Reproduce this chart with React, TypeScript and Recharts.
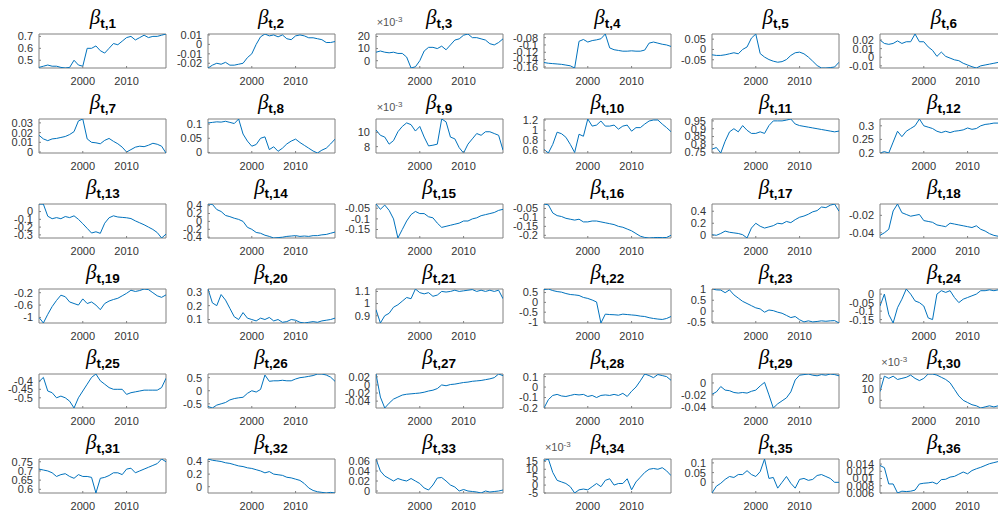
import { LineChart, Line, XAxis, YAxis, ReferenceArea } from 'recharts'

const YEARS = [1990, 1991, 1992, 1993, 1994, 1995, 1996, 1997, 1998, 1999, 2000, 2001, 2002, 2003, 2004,
  2005, 2006, 2007, 2008, 2009, 2010, 2011, 2012, 2013, 2014, 2015, 2016, 2017, 2018, 2019]
const X_TICKS = [2000, 2010]

// one coefficient path per panel, yearly readings
const B1 = [0.44, 0.45, 0.46, 0.45, 0.45, 0.44, 0.435, 0.44, 0.5, 0.46, 0.45, 0.6, 0.6, 0.62, 0.58, 0.56, 0.6, 0.64, 0.63, 0.66, 0.69, 0.7, 0.67, 0.69, 0.71, 0.69, 0.7, 0.7, 0.71, 0.72]
const B2 = [-0.025, -0.022, -0.02, -0.021, -0.019, -0.022, -0.022, -0.021, -0.02, -0.014, -0.01, 0.0, 0.008, 0.011, 0.009, 0.01, 0.008, 0.01, 0.006, 0.005, 0.009, 0.01, 0.009, 0.007, 0.007, 0.006, 0.005, 0.002, 0.002, 0.003]
const B3 = [7, 8, 7, 6.5, 7, 6, 6, 3, -6, -5, 0, 8, 11, 11, 10, 12, 9, 13, 17, 18, 21, 22, 19, 19, 18, 17, 14, 13, 15, 18]
const B4 = [-0.148, -0.15, -0.151, -0.152, -0.153, -0.155, -0.157, -0.163, -0.09, -0.085, -0.092, -0.088, -0.086, -0.083, -0.07, -0.108, -0.113, -0.115, -0.117, -0.117, -0.116, -0.117, -0.117, -0.114, -0.095, -0.092, -0.095, -0.098, -0.1, -0.104]
const B5 = [-0.026, -0.029, -0.029, -0.026, -0.021, -0.016, -0.021, 0.0, 0.012, 0.055, 0.075, -0.02, -0.037, -0.049, -0.057, -0.062, -0.059, -0.049, -0.029, -0.016, -0.013, -0.021, -0.037, -0.057, -0.078, -0.09, -0.09, -0.088, -0.085, -0.062]
const B6 = [0.02, 0.016, 0.015, 0.016, 0.019, 0.016, 0.018, 0.018, 0.027, 0.018, 0.018, 0.012, 0.008, 0.001, 0.006, 0.001, -0.001, -0.003, -0.004, -0.007, -0.009, -0.011, -0.0125, -0.01, -0.009, -0.008, -0.007, -0.006, -0.005, -0.004]
const B7 = [0.0172, 0.0135, 0.0117, 0.0135, 0.014, 0.015, 0.016, 0.018, 0.021, 0.032, 0.034, 0.0135, 0.01, 0.0095, 0.0085, 0.012, 0.014, 0.011, 0.0085, 0.005, 0.0, 0.0025, 0.005, 0.006, 0.0055, 0.007, 0.009, 0.008, 0.006, -0.001]
const B8 = [0.104, 0.106, 0.108, 0.107, 0.11, 0.106, 0.102, 0.118, 0.065, 0.04, 0.022, 0.028, 0.05, 0.055, 0.01, 0.02, 0.004, 0.015, 0.03, 0.04, 0.047, 0.035, 0.025, 0.015, 0.005, -0.002, 0.008, 0.015, 0.03, 0.047]
const B9 = [10.35, 9.6, 9.35, 8.35, 8.85, 10.1, 10.85, 11.35, 11.1, 10.2, 10.85, 9.35, 8.1, 8.2, 8.35, 11.9, 11.5, 9.35, 9.1, 7.85, 7.1, 8.35, 9.1, 9.85, 9.6, 10.1, 10.1, 9.85, 9.6, 7.5]
const B10 = [0.62, 0.55, 0.72, 0.96, 0.93, 0.86, 0.72, 0.56, 0.92, 0.88, 1.22, 1.08, 1.1, 1.18, 1.08, 1.08, 1.1, 1.02, 1.08, 1.1, 0.98, 1.05, 1.05, 1.12, 1.18, 1.2, 1.2, 1.12, 1.05, 0.97]
const B11 = [0.77, 0.78, 0.745, 0.82, 0.88, 0.9, 0.88, 0.92, 0.89, 0.87, 0.87, 0.88, 0.87, 0.92, 0.95, 0.95, 0.95, 0.955, 0.962, 0.93, 0.92, 0.915, 0.91, 0.905, 0.9, 0.895, 0.89, 0.885, 0.88, 0.885]
const B12 = [0.2, 0.205, 0.2, 0.24, 0.28, 0.26, 0.28, 0.29, 0.3, 0.325, 0.3, 0.295, 0.29, 0.28, 0.275, 0.28, 0.275, 0.28, 0.282, 0.285, 0.292, 0.287, 0.29, 0.3, 0.305, 0.307, 0.31, 0.31, 0.312, 0.315]
const B13 = [0.097, 0.095, -0.06, -0.092, -0.078, -0.092, -0.064, -0.078, -0.055, -0.1, -0.156, -0.216, -0.276, -0.26, -0.28, -0.15, -0.08, -0.055, -0.07, -0.075, -0.08, -0.09, -0.12, -0.145, -0.17, -0.2, -0.23, -0.27, -0.34, -0.29]
const B14 = [0.44, 0.43, 0.3, 0.25, 0.15, 0.12, 0.08, 0.05, 0.0, -0.15, -0.2, -0.28, -0.3, -0.35, -0.38, -0.42, -0.41, -0.4, -0.38, -0.37, -0.36, -0.38, -0.37, -0.38, -0.36, -0.36, -0.34, -0.33, -0.3, -0.27]
const B15 = [-0.03, -0.055, -0.035, -0.06, -0.1, -0.19, -0.15, -0.11, -0.08, -0.065, -0.075, -0.075, -0.09, -0.095, -0.12, -0.14, -0.135, -0.13, -0.125, -0.12, -0.11, -0.11, -0.1, -0.095, -0.085, -0.08, -0.075, -0.07, -0.06, -0.055]
const B16 = [-0.025, -0.03, -0.075, -0.09, -0.095, -0.105, -0.11, -0.115, -0.11, -0.125, -0.125, -0.12, -0.12, -0.125, -0.13, -0.135, -0.14, -0.15, -0.155, -0.165, -0.175, -0.19, -0.205, -0.212, -0.215, -0.213, -0.212, -0.213, -0.212, -0.2]
const B17 = [0.01, 0.0, 0.03, 0.07, 0.05, 0.04, 0.03, 0.01, -0.045, 0.12, 0.2, 0.15, 0.12, 0.14, 0.16, 0.2, 0.19, 0.23, 0.21, 0.26, 0.3, 0.32, 0.35, 0.39, 0.41, 0.47, 0.46, 0.5, 0.52, 0.4]
const B18 = [-0.043, -0.04, -0.036, -0.015, -0.007, -0.017, -0.019, -0.021, -0.02, -0.019, -0.026, -0.027, -0.028, -0.031, -0.032, -0.033, -0.029, -0.03, -0.031, -0.032, -0.033, -0.034, -0.032, -0.036, -0.038, -0.041, -0.043, -0.044, -0.046, -0.046]
const B19 = [-1.0, -1.18, -0.9, -0.65, -0.45, -0.28, -0.33, -0.5, -0.55, -0.6, -0.4, -0.55, -0.5, -0.6, -0.75, -0.55, -0.47, -0.42, -0.38, -0.3, -0.22, -0.12, -0.16, -0.13, -0.08, -0.1, -0.2, -0.3, -0.35, -0.27]
const B20 = [0.32, 0.22, 0.2, 0.28, 0.24, 0.18, 0.12, 0.1, 0.15, 0.11, 0.1, 0.09, 0.11, 0.1, 0.115, 0.09, 0.1, 0.08, 0.085, 0.1, 0.095, 0.08, 0.075, 0.08, 0.085, 0.08, 0.09, 0.095, 0.1, 0.11]
const B21 = [0.95, 0.84, 0.9, 0.92, 0.97, 0.99, 1.02, 1.05, 1.04, 1.12, 1.09, 1.08, 1.09, 1.06, 1.07, 1.1, 1.095, 1.1, 1.11, 1.1, 1.105, 1.11, 1.115, 1.1, 1.11, 1.1, 1.11, 1.1, 1.11, 1.04]
const B22 = [0.65, 0.68, 0.6, 0.55, 0.52, 0.45, 0.4, 0.38, 0.35, 0.25, 0.2, 0.12, 0.02, -1.05, -0.6, -0.62, -0.63, -0.65, -0.6, -0.62, -0.64, -0.66, -0.7, -0.72, -0.78, -0.82, -0.85, -0.87, -0.82, -0.72]
const B23 = [1.02, 0.98, 0.97, 0.85, 0.98, 0.75, 0.6, 0.45, 0.35, 0.25, 0.15, 0.1, -0.05, 0.05, 0.02, -0.05, -0.1, -0.2, -0.3, -0.25, -0.4, -0.5, -0.45, -0.5, -0.48, -0.45, -0.47, -0.45, -0.44, -0.55]
const B24 = [-0.07, 0.0, -0.12, -0.17, -0.08, -0.03, 0.03, 0.0, -0.04, -0.05, -0.07, -0.14, -0.15, 0.0, 0.02, 0.01, 0.02, -0.02, -0.05, -0.03, -0.02, -0.01, 0.0, 0.02, 0.02, 0.025, 0.02, 0.025, 0.02, 0.03]
const B25 = [-0.405, -0.38, -0.46, -0.47, -0.5, -0.49, -0.5, -0.52, -0.56, -0.5, -0.46, -0.42, -0.38, -0.36, -0.4, -0.42, -0.44, -0.45, -0.45, -0.45, -0.48, -0.47, -0.465, -0.46, -0.455, -0.455, -0.455, -0.455, -0.44, -0.385]
const B26 = [-0.6, -0.66, -0.55, -0.5, -0.45, -0.35, -0.3, -0.27, -0.25, -0.1, 0.0, -0.05, 0.05, 0.6, 0.36, 0.38, 0.38, 0.4, 0.38, 0.38, 0.45, 0.5, 0.52, 0.55, 0.58, 0.64, 0.64, 0.6, 0.52, 0.36]
const B27 = [0.027, -0.03, -0.057, -0.045, -0.035, -0.03, -0.025, -0.023, -0.022, -0.021, -0.02, -0.018, -0.015, -0.013, -0.009, 0.0, -0.002, 0.001, 0.002, 0.004, 0.006, 0.007, 0.009, 0.01, 0.011, 0.013, 0.015, 0.018, 0.027, 0.023]
const B28 = [-0.2, -0.12, -0.08, -0.07, -0.085, -0.09, -0.08, -0.07, -0.075, -0.07, -0.09, -0.08, -0.1, -0.08, -0.075, -0.08, -0.07, -0.08, -0.06, -0.09, -0.04, 0.0, 0.06, 0.125, 0.11, 0.09, 0.12, 0.11, 0.1, 0.065]
const B29 = [-0.019, -0.015, -0.006, -0.012, -0.013, -0.016, -0.017, -0.016, -0.017, -0.014, -0.012, -0.005, 0.001, -0.02, -0.042, -0.035, -0.03, -0.025, -0.015, 0.005, 0.013, 0.014, 0.015, 0.013, 0.012, 0.014, 0.013, 0.015, 0.014, 0.012]
const B30 = [8, 22, 20, 22, 19, 20, 21, 23, 20, 18, 20, 24, 24, 23, 21, 19, 16, 10, 4, 0, -2, -4, -5, -7, -6, -5, -6, -5, -4, -4]
const B31 = [0.71, 0.705, 0.7, 0.69, 0.67, 0.68, 0.685, 0.67, 0.66, 0.68, 0.67, 0.67, 0.665, 0.58, 0.66, 0.665, 0.675, 0.69, 0.69, 0.68, 0.71, 0.715, 0.69, 0.7, 0.71, 0.72, 0.73, 0.74, 0.765, 0.75]
const B32 = [0.44, 0.42, 0.41, 0.4, 0.38, 0.37, 0.35, 0.33, 0.32, 0.3, 0.29, 0.27, 0.25, 0.22, 0.24, 0.2, 0.19, 0.18, 0.15, 0.14, 0.12, 0.1, 0.05, -0.02, -0.06, -0.08, -0.09, -0.1, -0.09, -0.1]
const B33 = [0.064, 0.04, 0.03, 0.025, 0.02, 0.025, 0.022, 0.02, 0.025, 0.02, 0.015, 0.006, 0.002, 0.012, 0.026, 0.027, 0.02, 0.012, 0.008, 0.0, 0.003, 0.0, -0.001, -0.002, -0.004, 0.0, -0.002, -0.001, 0.0, 0.002]
const B34 = [15.5, 16.5, 8, 3, 2, 1, -1, -5, -3, -2.5, -3, -1, 1, -1, 3, 4, 0, 1, 1, 4, -3, 2, 5, 8, 10, 10.5, 10, 11, 9, 6]
const B35 = [-0.055, -0.02, -0.005, 0.015, 0.03, 0.025, 0.04, 0.04, 0.06, 0.04, 0.03, 0.055, 0.12, 0.02, 0.025, -0.03, 0.0, 0.03, -0.005, -0.03, 0.015, 0.02, 0.01, 0.015, 0.035, 0.04, 0.03, 0.02, 0.0, 0.0]
const B36 = [0.0136, 0.013, 0.0085, 0.0085, 0.006, 0.0065, 0.0064, 0.0065, 0.0068, 0.0085, 0.0087, 0.0088, 0.009, 0.0085, 0.0097, 0.0098, 0.0104, 0.0106, 0.0112, 0.0118, 0.0113, 0.0122, 0.0127, 0.0131, 0.0136, 0.0141, 0.0144, 0.0147, 0.015, 0.0154]

const SERIES = [B1, B2, B3, B4, B5, B6, B7, B8, B9, B10, B11, B12, B13, B14, B15, B16, B17, B18,
  B19, B20, B21, B22, B23, B24, B25, B26, B27, B28, B29, B30, B31, B32, B33, B34, B35, B36]

const Y_TICKS = [
  [0.5, 0.6, 0.7], [-0.02, -0.01, 0, 0.01], [0, 10, 20], [-0.16, -0.14, -0.12, -0.1, -0.08],
  [-0.05, 0, 0.05], [-0.01, 0, 0.01, 0.02], [0, 0.01, 0.02, 0.03], [0, 0.05, 0.1],
  [8, 10], [0.6, 0.8, 1, 1.2], [0.75, 0.8, 0.85, 0.9, 0.95], [0.2, 0.25, 0.3],
  [-0.3, -0.2, -0.1, 0], [-0.4, -0.2, 0, 0.2, 0.4], [-0.15, -0.1, -0.05], [-0.2, -0.15, -0.1, -0.05],
  [0, 0.2, 0.4], [-0.04, -0.02], [-1, -0.6, -0.2], [0.1, 0.2, 0.3],
  [0.9, 1, 1.1], [-1, -0.5, 0, 0.5], [-0.5, 0, 0.5, 1], [-0.15, -0.1, -0.05, 0],
  [-0.5, -0.45, -0.4], [-0.5, 0, 0.5], [-0.04, -0.02, 0, 0.02], [-0.2, -0.1, 0, 0.1],
  [-0.04, -0.02, 0], [0, 10, 20], [0.6, 0.65, 0.7, 0.75], [0, 0.2, 0.4],
  [0, 0.02, 0.04, 0.06], [-5, 0, 5, 10, 15], [0, 0.05, 0.1], [0.006, 0.008, 0.01, 0.012, 0.014],
]

// panels plotted in units of 1e-3
const SCALED = [3, 9, 30, 34]

const COL_X = 39.3
const COL_STEP = 168.2
const ROW_Y = 33.5
const ROW_STEP = 85
const BOX_W = 127
const BOX_H = 34
const AXIS_W = 48
const PAD_TOP = 8
const LINE_COLOR = '#0072BD'
const FRAME = '#808080'
const TEXT = '#333333'

function Panel({ idx }: { idx: number }) {
  const vals = SERIES[idx]
  const data = YEARS.map((t, i) => ({ t, v: vals[i] }))
  const lo = Math.min(...vals)
  const hi = Math.max(...vals)
  const eps = (hi - lo) * 1e-6
  const ticks = Y_TICKS[idx].filter(v => v >= lo - eps && v <= hi + eps)
  const col = idx % 6
  const row = Math.floor(idx / 6)
  const left = COL_X + col * COL_STEP
  const top = ROW_Y + row * ROW_STEP
  const tickStyle = { fontSize: 11, fill: TEXT }

  return (
    <>
      <div style={{
        position: 'absolute', left, top: top - 29, width: BOX_W, textAlign: 'center',
        whiteSpace: 'nowrap', color: '#000', lineHeight: '24px',
      }}>
        <span style={{ fontFamily: '"Liberation Serif", serif', fontStyle: 'italic', fontSize: 21 }}>β</span>
        <span style={{ fontWeight: 'bold', fontSize: 13.5, position: 'relative', top: 4 }}>t,{idx + 1}</span>
      </div>
      {SCALED.includes(idx + 1) && (
        <div style={{ position: 'absolute', left: left + 1, top: top - 18, fontSize: 11, color: '#555', lineHeight: '12px' }}>
          ×10<span style={{ fontSize: 8, position: 'relative', top: -4 }}>-3</span>
        </div>
      )}
      <div style={{ position: 'absolute', left: left - AXIS_W, top: top - PAD_TOP }}>
        <LineChart width={AXIS_W + BOX_W + 2} height={BOX_H + PAD_TOP + 22} data={data}
          margin={{ top: PAD_TOP, right: 2, bottom: 0, left: 0 }}>
          <XAxis dataKey="t" type="number" domain={[1990, 2019]} ticks={X_TICKS} interval={0}
            axisLine={false} tickLine={{ stroke: FRAME }} tickSize={-2} tickMargin={11}
            height={22} tick={tickStyle} allowDataOverflow />
          <YAxis type="number" domain={[lo, hi]} ticks={ticks} interval={0} width={AXIS_W}
            axisLine={false} tickLine={{ stroke: FRAME }} tickSize={-2} tickMargin={8}
            tick={tickStyle} tickFormatter={(v: number) => String(v)} allowDataOverflow />
          <Line dataKey="v" stroke={LINE_COLOR} strokeWidth={1} dot={false} isAnimationActive={false} />
          <ReferenceArea x1={1990} x2={2019} y1={lo} y2={hi} fill="none" stroke={FRAME} strokeWidth={1}
            ifOverflow="visible" />
        </LineChart>
      </div>
    </>
  )
}

export default function App() {
  return (
    <div style={{
      position: 'absolute', left: 0, top: 0, width: 998, height: 511, overflow: 'hidden',
      background: '#fff', fontFamily: '"Liberation Sans", Arial, Helvetica, sans-serif',
    }}>
      {SERIES.map((_, i) => <Panel key={i} idx={i} />)}
    </div>
  )
}
